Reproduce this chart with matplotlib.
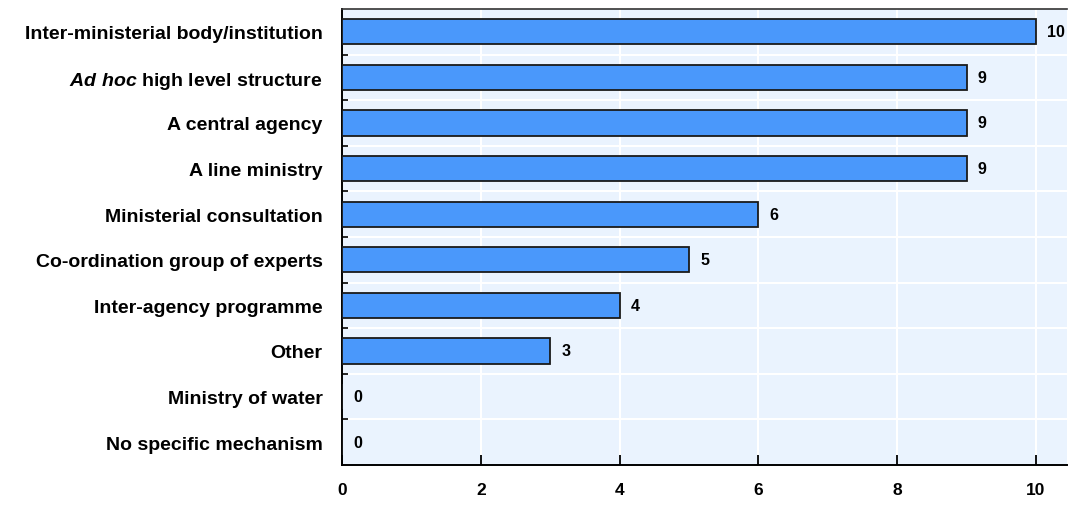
import matplotlib
matplotlib.use("Agg")
import matplotlib.pyplot as plt
import numpy as np

categories = [
    "Inter-ministerial body/institution",
    r"$\mathit{Ad\ hoc}$ high level structure",
    "A central agency",
    "A line ministry",
    "Ministerial consultation",
    "Co-ordination group of experts",
    "Inter-agency programme",
    "Other",
    "Ministry of water",
    "No specific mechanism",
]
counts = [10, 9, 9, 9, 6, 5, 4, 3, 0, 0]
x_ticks = [0, 2, 4, 6, 8, 10]

plt.rcParams["font.family"] = "Liberation Sans"
plt.rcParams["font.weight"] = "bold"
plt.rcParams["mathtext.fontset"] = "custom"
plt.rcParams["mathtext.it"] = "Liberation Sans:italic:bold"
plt.rcParams["mathtext.rm"] = "Liberation Sans:bold"

fig = plt.figure(figsize=(10.68, 5.10), dpi=100)
ax = fig.add_axes([0.3202, 0.0863, 0.6790, 0.8941])
ax.set_facecolor("#EAF3FE")

y = np.arange(len(categories))
ax.barh(y, counts, height=0.55, color="#4A98FB", edgecolor="#1a1a1a",
        linewidth=1.3, zorder=3)

for yi, v in zip(y, counts):
    ax.annotate(str(v), xy=(v, yi), xytext=(8, 0), textcoords="offset points",
                ha="left", va="center", fontsize=11.5, fontweight="bold",
                color="black")

ax.set_ylim(len(categories) - 0.5, -0.5)
ax.set_xlim(0, 10.45)

ax.set_yticks(y)
ax.set_yticklabels(categories, fontsize=14, fontweight="bold")
ax.tick_params(axis="y", which="major", length=0, pad=14)
ax.set_yticks(np.arange(len(categories) - 1) + 0.5, minor=True)
ax.tick_params(axis="y", which="minor", length=4, direction="in", width=1.2)

ax.set_xticks(x_ticks)
ax.set_xticklabels([str(t) for t in x_ticks], fontsize=12.5, fontweight="bold")
ax.tick_params(axis="x", which="major", length=7, direction="in", width=1.3, pad=12)

ax.grid(axis="x", which="major", color="white", linewidth=1.5, zorder=1)
ax.grid(axis="y", which="minor", color="white", linewidth=1.5, zorder=1)
ax.set_axisbelow(True)

for side in ["left", "bottom"]:
    ax.spines[side].set_color("black")
    ax.spines[side].set_linewidth(1.4)
ax.spines["top"].set_color("#333333")
ax.spines["top"].set_linewidth(1.2)
ax.spines["right"].set_visible(False)

fig.savefig("out.png", dpi=100, facecolor="white")
